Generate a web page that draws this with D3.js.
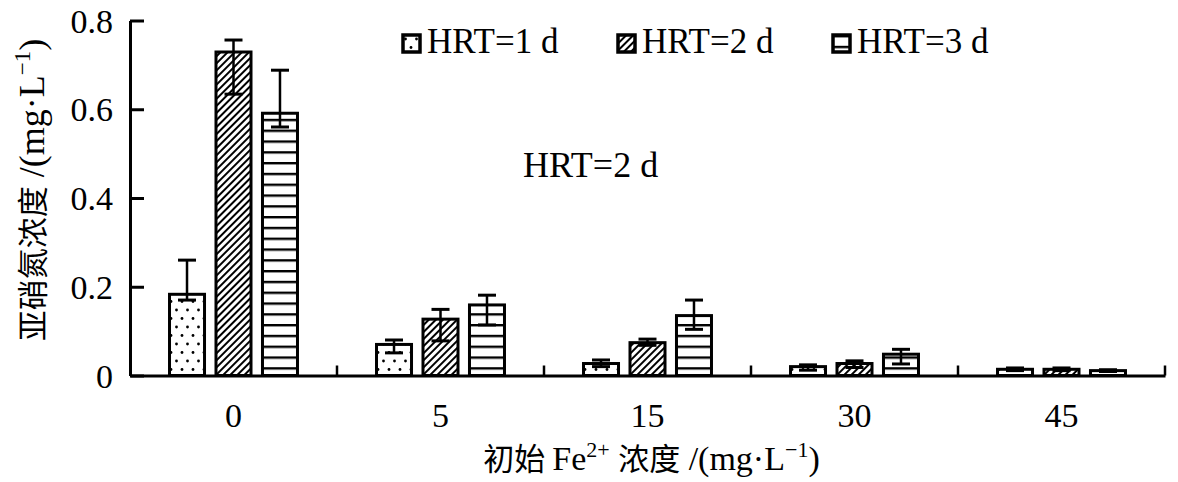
<!DOCTYPE html>
<html>
<head>
<meta charset="utf-8">
<script src="https://cdn.jsdelivr.net/npm/d3@7"></script>
<style>
  html, body { margin: 0; padding: 0; background: #fff; }
  svg { display: block; }
</style>
</head>
<body>
<svg id="chart" width="1178" height="482"></svg>
<script>
// ---- data ----
const categories = ["0", "5", "15", "30", "45"];
const seriesNames = ["HRT=1 d", "HRT=2 d", "HRT=3 d"];
const hrt1 = [0.183, 0.070, 0.027, 0.020, 0.014];
const hrt1High = [0.260, 0.080, 0.035, 0.024, 0.017];
const hrt1Low = [0.170, 0.051, 0.020, 0.012, 0.011];
const hrt2 = [0.729, 0.127, 0.074, 0.027, 0.014];
const hrt2High = [0.756, 0.149, 0.082, 0.033, 0.017];
const hrt2Low = [0.634, 0.078, 0.068, 0.018, 0.011];
const hrt3 = [0.591, 0.159, 0.135, 0.048, 0.011];
const hrt3High = [0.688, 0.181, 0.170, 0.059, 0.013];
const hrt3Low = [0.560, 0.114, 0.104, 0.026, 0.009];
const yTicks = [0, 0.2, 0.4, 0.6, 0.8];
const annotationText = "HRT=2 d";

const values = [hrt1, hrt2, hrt3];
const highs = [hrt1High, hrt2High, hrt3High];
const lows = [hrt1Low, hrt2Low, hrt3Low];
const patternIds = ["pDots", "pHatch", "pStripes"];

const SERIF = "'Liberation Serif', 'Times New Roman', serif";
const CJK = "'Noto Sans CJK SC', 'Noto Sans CJK JP', sans-serif";

const svg = d3.select("#chart");
const margin = { left: 130, right: 13, top: 20.5, bottom: 106.5 };
const W = 1178, H = 482;

// ---- patterns ----
const defs = svg.append("defs");
const pd = defs.append("pattern").attr("id", "pDots").attr("patternUnits", "userSpaceOnUse")
  .attr("width", 11).attr("height", 17);
pd.append("rect").attr("width", 11).attr("height", 17).attr("fill", "#fff");
pd.append("circle").attr("cx", 2.5).attr("cy", 4).attr("r", 1.4).attr("fill", "#000");
pd.append("circle").attr("cx", 8).attr("cy", 12.5).attr("r", 1.4).attr("fill", "#000");

const ph = defs.append("pattern").attr("id", "pHatch").attr("patternUnits", "userSpaceOnUse")
  .attr("width", 5).attr("height", 5).attr("patternTransform", "rotate(45)");
ph.append("rect").attr("width", 5).attr("height", 5).attr("fill", "#fff");
ph.append("line").attr("x1", 1).attr("y1", 0).attr("x2", 1).attr("y2", 5)
  .attr("stroke", "#000").attr("stroke-width", 2);

const ps = defs.append("pattern").attr("id", "pStripes").attr("patternUnits", "userSpaceOnUse")
  .attr("width", 10).attr("height", 10.8);
ps.append("rect").attr("width", 10).attr("height", 10.8).attr("fill", "#fff");
ps.append("rect").attr("x", 0).attr("y", 0).attr("width", 10).attr("height", 2.4).attr("fill", "#000");

// ---- scales ----
const x0 = d3.scaleBand().domain(categories).range([margin.left, W - margin.right]).padding(0);
const x1 = d3.scaleBand().domain(seriesNames).range([0, x0.bandwidth()])
  .paddingInner(0.247).paddingOuter(0.85);
const y = d3.scaleLinear().domain([0, 0.8]).range([H - margin.bottom, margin.top]);

// ---- bars ----
const groups = svg.append("g").selectAll("g").data(categories).join("g")
  .attr("transform", d => `translate(${x0(d)},0)`);

groups.each(function (cat, ci) {
  const g = d3.select(this);
  seriesNames.forEach((s, si) => {
    g.append("rect")
      .attr("x", x1(s))
      .attr("y", y(values[si][ci]))
      .attr("width", x1.bandwidth())
      .attr("height", y(0) - y(values[si][ci]))
      .attr("fill", `url(#${patternIds[si]})`)
      .attr("stroke", "#000").attr("stroke-width", 3);
  });
});

// error bars
groups.each(function (cat, ci) {
  const g = d3.select(this);
  seriesNames.forEach((s, si) => {
    const cx = x1(s) + x1.bandwidth() / 2;
    const hi = y(highs[si][ci]), lo = y(lows[si][ci]);
    const cap = 9;
    g.append("line").attr("x1", cx).attr("x2", cx).attr("y1", hi).attr("y2", lo)
      .attr("stroke", "#000").attr("stroke-width", 2.5);
    g.append("line").attr("x1", cx - cap).attr("x2", cx + cap).attr("y1", hi).attr("y2", hi)
      .attr("stroke", "#000").attr("stroke-width", 3);
    g.append("line").attr("x1", cx - cap).attr("x2", cx + cap).attr("y1", lo).attr("y2", lo)
      .attr("stroke", "#000").attr("stroke-width", 3);
  });
});

// ---- axes ----
const yAxis = d3.axisLeft(y).tickValues(yTicks).tickSizeInner(-14).tickSizeOuter(0).tickPadding(17)
  .tickFormat(d => d === 0 ? "0" : d.toFixed(1));
const gy = svg.append("g").attr("transform", `translate(${margin.left},0)`).call(yAxis);
gy.select(".domain").attr("stroke", "#000").attr("stroke-width", 3);
gy.selectAll(".tick line").attr("stroke", "#000").attr("stroke-width", 3);
gy.selectAll(".tick text").style("font-family", SERIF).style("font-size", "34px")
  .attr("fill", "#000").attr("dy", "0.34em");

const xAxis = d3.axisBottom(x0).tickSize(0).tickPadding(27);
const gx = svg.append("g").attr("transform", `translate(0,${y(0)})`).call(xAxis);
gx.select(".domain").attr("stroke", "#000").attr("stroke-width", 3);
gx.selectAll(".tick text").style("font-family", SERIF).style("font-size", "34px").attr("fill", "#000");

// category separators
const sepX = categories.map(c => x0(c)).concat([x0(categories[categories.length - 1]) + x0.bandwidth()]);
svg.append("g").selectAll("line").data(sepX.slice(1)).join("line")
  .attr("x1", d => d).attr("x2", d => d)
  .attr("y1", y(0)).attr("y2", y(0) - 10)
  .attr("stroke", "#000").attr("stroke-width", 2.5);

// ---- axis titles ----
const xt = svg.append("text")
  .attr("x", (margin.left + W - margin.right) / 2 + 4)
  .attr("y", 470)
  .attr("text-anchor", "middle")
  .style("font-family", SERIF).style("font-size", "34px");
xt.append("tspan").style("font-family", CJK).style("font-size", "31px").text("初始 ");
xt.append("tspan").text("Fe");
xt.append("tspan").style("font-size", "22px").attr("dy", -13).text("2+");
xt.append("tspan").attr("dy", 13).text(" ");
xt.append("tspan").style("font-family", CJK).style("font-size", "31px").text("浓度");
xt.append("tspan").text(" /(mg·L");
xt.append("tspan").style("font-size", "22px").attr("dy", -13).text("−1");
xt.append("tspan").attr("dy", 13).text(")");

const yt = svg.append("text")
  .attr("transform", `translate(44,${(y(0) + y(0.8)) / 2 - 8}) rotate(-90)`)
  .attr("text-anchor", "middle")
  .style("font-family", SERIF).style("font-size", "36px");
yt.append("tspan").style("font-family", CJK).style("font-size", "31px").text("亚硝氮浓度");
yt.append("tspan").text(" /(mg·L");
yt.append("tspan").style("font-size", "23px").attr("dy", -14).text("−1");
yt.append("tspan").attr("dy", 14).text(")");

// ---- legend ----
const legend = svg.append("g").selectAll("g").data(seriesNames).join("g")
  .attr("transform", (d, i) => `translate(${403 + i * 215},35)`);
legend.append("rect").attr("x", 0).attr("y", 0).attr("width", 17).attr("height", 17)
  .attr("fill", (d, i) => `url(#${patternIds[i]})`)
  .attr("stroke", "#000").attr("stroke-width", 3.5);
legend.append("text").attr("x", 24).attr("y", 18)
  .style("font-family", SERIF).style("font-size", "35px").text(d => d);

// ---- annotation ----
svg.append("text").attr("x", 523).attr("y", 177)
  .style("font-family", SERIF).style("font-size", "36px").text(annotationText);
</script>
</body>
</html>
